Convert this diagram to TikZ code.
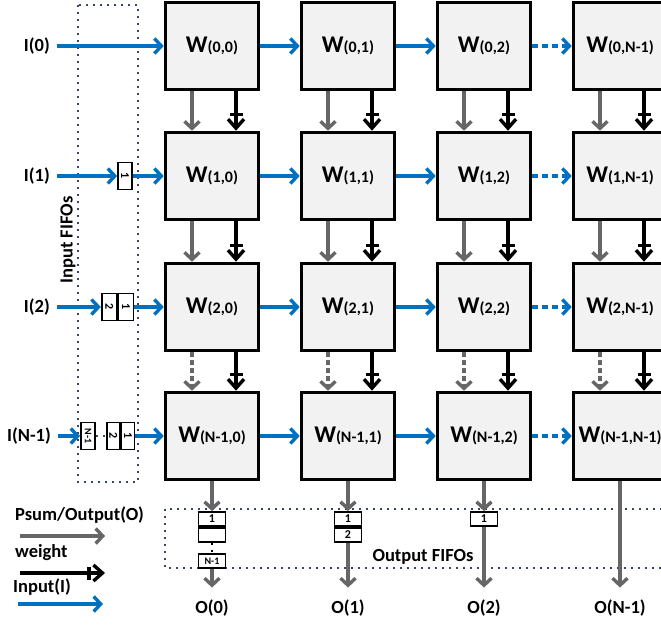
\documentclass[tikz,border=0pt]{standalone}
\usepackage{fontspec}
\setmainfont{Carlito}
\usetikzlibrary{arrows.meta,positioning}

\definecolor{inblue}{RGB}{0,112,192}
\definecolor{psgray}{RGB}{102,102,102}
\definecolor{pefill}{RGB}{242,242,242}
\definecolor{fifodot}{RGB}{55,70,100}

\tikzset{
  pe/.style={draw=black, line width=3.6pt, fill=pefill, minimum width=93pt, minimum height=87pt,
    inner sep=0pt, font=\bfseries\fontsize{24}{24}\selectfont},
  inarrow/.style={draw=inblue, line width=3.4pt, -{Straight Barb[length=7pt,width=15pt]}},
  psarrow/.style={draw=psgray, line width=3.4pt, -{Straight Barb[length=7pt,width=15pt]}},
  wtarrow/.style={draw=black, line width=3.4pt, -{Bar[width=13pt,sep=1pt]Straight Barb[length=9pt,width=16pt]}},
  fifocell/.style={draw=black, line width=1.8pt, fill=white, inner sep=0pt, font=\bfseries\fontsize{12}{12}\selectfont},
  fifobox/.style={draw=fifodot, line width=2pt, dash pattern=on 2pt off 5pt},
  lbl/.style={font=\bfseries\fontsize{18.5}{18.5}\selectfont, inner sep=0pt},
}

\newcommand{\sub}[1]{{\fontsize{16}{16}\selectfont(#1)}}

\begin{document}
\begin{tikzpicture}[x=1pt, y=-1pt]
    \useasboundingbox (0,0) rectangle (661,624);

    % FIFO frames
    \draw[fifobox] (78,5) rectangle (138,482);
    \draw[fifobox] (165,509) rectangle (680,568);
    \node[lbl, rotate=90] (infifo) at (68,240) {Input FIFOs};
    \node[lbl] (outfifo) at (423,557) {Output FIFOs};

    % PE grid
    \foreach \r/\rl/\ry in {0/0/46, 1/1/176, 2/2/307, 3/N-1/436}
        \foreach \c/\cl/\cx in {0/0/212, 1/1/348, 2/2/484, 3/N-1/620}
            \node[pe] (w\r\c) at (\cx,\ry) {W\sub{\rl,\cl}};

    % inputs along the rows
    \foreach \r in {0,1,2,3} {
        \draw[inarrow] (w\r0.east) -- (w\r1.west);
        \draw[inarrow] (w\r1.east) -- (w\r2.west);
        \draw[inarrow, dash pattern=on 6pt off 4pt] (w\r2.east) -- (w\r3.west);
    }

    % psum and weight down the columns
    \foreach \c in {0,1,2,3} {
        \foreach \r/\s in {0/1, 1/2} {
            \draw[psarrow] ([xshift=-20pt]w\r\c.south) -- ([xshift=-20pt]w\s\c.north);
            \draw[wtarrow] ([xshift=24pt]w\r\c.south) -- ([xshift=24pt]w\s\c.north);
        }
        \draw[psarrow, dash pattern=on 5pt off 3pt] ([xshift=-20pt]w2\c.south) -- ([xshift=-20pt]w3\c.north);
        \draw[wtarrow] ([xshift=24pt]w2\c.south) -- ([xshift=24pt]w3\c.north);
    }

    % input labels
    \node[lbl, anchor=east] (i0) at (50,46) {I(0)};
    \node[lbl, anchor=east] (i1) at (50,176) {I(1)};
    \node[lbl, anchor=east] (i2) at (50,307) {I(2)};
    \node[lbl, anchor=east] (i3) at (51,436) {I(N-1)};

    % input FIFO cells
    \node[fifocell, minimum width=14pt, minimum height=27pt] (f11) at (125,176) {\rotatebox{-90}{1}};
    \node[fifocell, minimum width=15pt, minimum height=27pt] (f21) at (126,307) {\rotatebox{-90}{1}};
    \node[fifocell, minimum width=15pt, minimum height=27pt, left=0pt of f21] (f22) {\rotatebox{-90}{2}};
    \node[fifocell, minimum width=13pt, minimum height=27pt] (f31) at (128,436) {\rotatebox{-90}{1}};
    \node[fifocell, minimum width=13pt, minimum height=27pt, left=0pt of f31] (f32) {\rotatebox{-90}{2}};
    \node[fifocell, minimum width=14pt, minimum height=27pt, font=\bfseries\fontsize{10}{10}\selectfont] (f3n) at (88,436) {\rotatebox{-90}{N-1}};

    \draw[inarrow, shorten <=7pt] (i0.east) -- (w00.west);
    \draw[inarrow, shorten <=7pt] (i1.east) -- (f11.west);
    \draw[inarrow] (f11.east) -- (w10.west);
    \draw[inarrow, shorten <=7pt] (i2.east) -- (f22.west);
    \draw[inarrow] (f21.east) -- (w20.west);
    \draw[inarrow, shorten <=7pt] (i3.east) -- (f3n.west);
    \draw[fifobox] (f3n.east) -- (f32.west);
    \draw[inarrow] (f31.east) -- (w30.west);

    % output FIFO cells
    \node[fifocell, minimum width=27pt, minimum height=14pt] (g01) at (212,519) {1};
    \node[fifocell, minimum width=27pt, minimum height=14pt, below=0pt of g01] (g02) {};
    \node[fifocell, minimum width=27pt, minimum height=14pt, font=\bfseries\fontsize{10}{10}\selectfont] (g0n) at (212,561) {N-1};
    \node[fifocell, minimum width=27pt, minimum height=14pt] (g11) at (348,519) {1};
    \node[fifocell, minimum width=27pt, minimum height=14pt, below=0pt of g11] (g12) {2};
    \node[fifocell, minimum width=27pt, minimum height=14pt] (g21) at (484,519) {1};

    % output labels
    \node[lbl] (o0) at (212,608) {O(0)};
    \node[lbl] (o1) at (348,608) {O(1)};
    \node[lbl] (o2) at (484,608) {O(2)};
    \node[lbl] (o3) at (620,608) {O(N-1)};

    \draw[psarrow] (w30.south) -- (g01.north);
    \draw[fifobox, draw=black] (g02.south) -- (g0n.north);
    \draw[psarrow, shorten >=12pt] (g0n.south) -- (o0.north);
    \draw[psarrow] (w31.south) -- (g11.north);
    \draw[psarrow, shorten >=12pt] (g12.south) -- (o1.north);
    \draw[psarrow] (w32.south) -- (g21.north);
    \draw[psarrow, shorten >=12pt] (g21.south) -- (o2.north);
    \draw[psarrow, shorten >=12pt] (w33.south) -- (o3.north);

    % legend
    \node[lbl, anchor=west] (lgps) at (15,515) {Psum/Output(O)};
    \coordinate (lgpsa) at (20,536);
    \coordinate (lgpsb) at (105,536);
    \draw[psarrow] (lgpsa) -- (lgpsb);
    \node[lbl, anchor=west] (lgwt) at (15,553) {weight};
    \coordinate (lgwta) at (20,573);
    \coordinate (lgwtb) at (105,573);
    \draw[wtarrow] (lgwta) -- (lgwtb);
    \node[lbl, anchor=west] (lgin) at (13,587) {Input(I)};
    \coordinate (lgina) at (18,604);
    \coordinate (lginb) at (103,604);
    \draw[inarrow] (lgina) -- (lginb);
\end{tikzpicture}
\end{document}
